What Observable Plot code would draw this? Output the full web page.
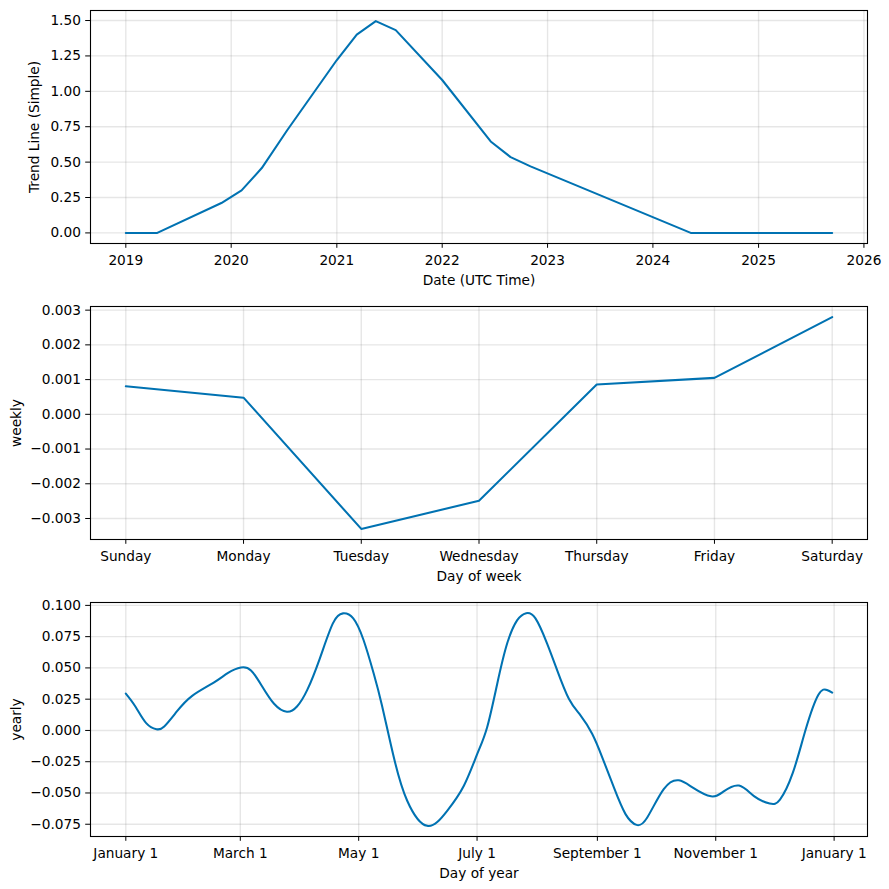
<!DOCTYPE html>
<html>
<head>
<meta charset="utf-8">
<script src="https://cdn.jsdelivr.net/npm/d3@7"></script>
<script src="https://cdn.jsdelivr.net/npm/@observablehq/plot@0.6"></script>
<style>
  html, body { margin: 0; padding: 0; background: #fff; }
  #chart { width: 889px; height: 889px; }
  #chart svg { display: block; }
</style>
</head>
<body>
<div id="chart"></div>
<script>
// ---- Data ----
const trendDates = ["2019-01-01","2019-04-20","2019-11-28","2020-02-06","2020-04-16","2020-07-13",
  "2021-01-01","2021-03-11","2021-05-16","2021-07-24","2022-01-01","2022-06-18","2022-08-26",
  "2022-11-03","2024-05-11","2025-09-13"];
const trendValues = [0, 0, 0.211, 0.30, 0.458, 0.725, 1.221, 1.401, 1.496, 1.432, 1.080, 0.646, 0.535,
  0.470, 0, 0];
const trendYearTicks = [2019, 2020, 2021, 2022, 2023, 2024, 2025, 2026];
const trendValueTicks = [0, 0.25, 0.5, 0.75, 1.0, 1.25, 1.5];

const weekdayNames = ["Sunday", "Monday", "Tuesday", "Wednesday", "Thursday", "Friday", "Saturday"];
const weeklyValues = [0.00081, 0.00048, -0.0033, -0.00249, 0.00086, 0.00105, 0.0028];
const weeklyTicks = [-0.003, -0.002, -0.001, 0, 0.001, 0.002, 0.003];

const yearlyDays = [0, 5, 10.5, 15.8, 19.8, 26.3, 34.2, 45.3, 52.7, 59.3, 64.5, 69.8, 76.4, 83, 88.2,
  93.5, 100, 106.7, 111.9, 117.2, 122.5, 127.7, 132.0, 138.1, 145.0, 155.3, 165.6, 174.2, 181.1,
  186.2, 191.4, 196.5, 201.7, 206.3, 211.1, 217.1, 222.3, 228.3, 234.3, 240.3, 245.5, 251.5, 257.5,
  263.2, 268.7, 277.2, 285.0, 292.4, 301.6, 308.1, 316, 323.9, 331.8, 337.1, 343.7, 350.3, 356.9,
  361.3, 364];
const yearlyValues = [0.0295, 0.019, 0.0059, 0.0010, 0.0032, 0.0152, 0.0277, 0.0383, 0.0460, 0.0503,
  0.0480, 0.0364, 0.0213, 0.0149, 0.0191, 0.0324, 0.0577, 0.0856, 0.0936, 0.0896, 0.0723, 0.0457,
  0.0200, -0.0215, -0.0562, -0.0763, -0.0643, -0.0442, -0.0188, 0.0026, 0.0374, 0.0695, 0.0882,
  0.0938, 0.0896, 0.0695, 0.0481, 0.0254, 0.0120, -0.0027, -0.0215, -0.0456, -0.0669, -0.0755,
  -0.0696, -0.0469, -0.0399, -0.0460, -0.0527, -0.0487, -0.0441, -0.0527, -0.0585, -0.0553,
  -0.0340, 0.0005, 0.0285, 0.0324, 0.0303];
const yearlyTicks = [-0.075, -0.05, -0.025, 0, 0.025, 0.05, 0.075, 0.1];
const yearlyMonthTicks = ["2017-01-01","2017-03-01","2017-05-01","2017-07-01","2017-09-01","2017-11-01","2018-01-01"];

// ---- Layout helpers ----
const W = 889, ML = 90, MR = 22, MT = 10, MB = 53;
const BLUE = "#0072B2";
const style = {fontFamily: "'DejaVu Sans', sans-serif", fontSize: "13.7px", color: "#000", background: "#fff", overflow: "visible"};
const padded = (lo, hi) => { const m = (hi - lo) * 0.05; return [lo - m, hi + m]; };
const gridStyle = {stroke: "gray", strokeOpacity: 0.2, strokeWidth: 1.37};
const tickX = {tickSize: 4.8, tickPadding: 7.2, labelAnchor: "center", labelArrow: "none", labelOffset: 41.5};
const tickY = {tickSize: 4.8, tickPadding: 4.8, labelAnchor: "center", labelArrow: "none"};
const utc = s => new Date(s + "T00:00:00Z");

const chart = document.getElementById("chart");

// ---- Panel 1: trend ----
const trend = trendDates.map((d, i) => ({date: utc(d), value: trendValues[i]}));
const tExt = d3.extent(trend, d => +d.date);
const xDom1 = padded(tExt[0], tExt[1]).map(t => new Date(t));
const yDom1 = padded(d3.min(trendValues), d3.max(trendValues));
const yearTickDates = trendYearTicks.map(y => new Date(Date.UTC(y, 0, 1)));

chart.appendChild(Plot.plot({
  width: W, height: 296, marginLeft: ML, marginRight: MR, marginTop: MT, marginBottom: MB,
  style,
  x: {type: "utc", domain: xDom1},
  y: {domain: yDom1},
  marks: [
    Plot.gridX(yearTickDates, gridStyle),
    Plot.gridY(trendValueTicks, gridStyle),
    Plot.line(trend, {x: "date", y: "value", stroke: BLUE, strokeWidth: 2.06}),
    Plot.frame({stroke: "#000", strokeWidth: 1.1}),
    Plot.axisX(yearTickDates, {...tickX, tickFormat: d3.utcFormat("%Y"), label: "Date (UTC Time)"}),
    Plot.axisY(trendValueTicks, {...tickY, tickFormat: d3.format(".2f"), label: "Trend Line (Simple)", labelOffset: 61})
  ]
}));

// ---- Panel 2: weekly ----
const weekly = weekdayNames.map((name, i) => ({day: i, value: weeklyValues[i]}));
const dayIdx = weekdayNames.map((_, i) => i);
chart.appendChild(Plot.plot({
  width: W, height: 296, marginLeft: ML, marginRight: MR, marginTop: MT, marginBottom: MB,
  style,
  x: {domain: padded(0, weekdayNames.length - 1)},
  y: {domain: padded(d3.min(weeklyValues), d3.max(weeklyValues))},
  marks: [
    Plot.gridX(dayIdx, gridStyle),
    Plot.gridY(weeklyTicks, gridStyle),
    Plot.line(weekly, {x: "day", y: "value", stroke: BLUE, strokeWidth: 2.06}),
    Plot.frame({stroke: "#000", strokeWidth: 1.1}),
    Plot.axisX(dayIdx, {...tickX, tickFormat: i => weekdayNames[i], label: "Day of week"}),
    Plot.axisY(weeklyTicks, {...tickY, tickFormat: d3.format(".3f"), label: "weekly", labelOffset: 79})
  ]
}));

// ---- Panel 3: yearly ----
const base = Date.UTC(2017, 0, 1);
const yearly = yearlyDays.map((d, i) => ({date: new Date(base + d * 864e5), value: yearlyValues[i]}));
const yExt = d3.extent(yearly, d => +d.date);
const xDom3 = padded(yExt[0], yExt[1]).map(t => new Date(t));
const monthTickDates = yearlyMonthTicks.map(utc);
chart.appendChild(Plot.plot({
  width: W, height: 297, marginLeft: ML, marginRight: MR, marginTop: MT, marginBottom: MB,
  style,
  x: {type: "utc", domain: xDom3},
  y: {domain: padded(d3.min(yearlyValues), d3.max(yearlyValues))},
  marks: [
    Plot.gridX(monthTickDates, gridStyle),
    Plot.gridY(yearlyTicks, gridStyle),
    Plot.line(yearly, {x: "date", y: "value", stroke: BLUE, strokeWidth: 2.06, curve: "natural"}),
    Plot.frame({stroke: "#000", strokeWidth: 1.1}),
    Plot.axisX(monthTickDates, {...tickX, tickFormat: d3.utcFormat("%B %-d"), label: "Day of year"}),
    Plot.axisY(yearlyTicks, {...tickY, tickFormat: d3.format(".3f"), label: "yearly", labelOffset: 79})
  ]
}));
</script>
</body>
</html>
